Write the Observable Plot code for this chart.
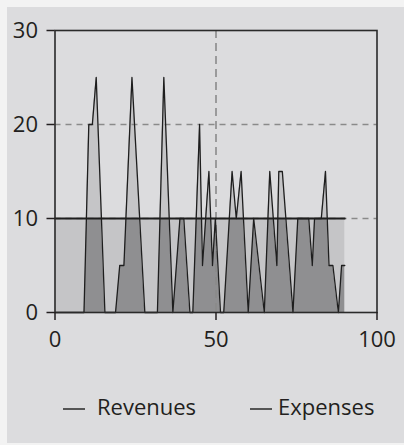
<!DOCTYPE html>
<html><head><meta charset="utf-8">
<script src="https://cdn.jsdelivr.net/npm/d3@7"></script>
<script src="https://cdn.jsdelivr.net/npm/@observablehq/plot@0.6"></script>
<style>
html,body{margin:0;padding:0;background:#f3f3f3;width:404px;height:445px;overflow:hidden;font-family:"Open Sans",sans-serif;}
#panel{position:absolute;left:7px;top:7px;width:397px;height:436px;background:#dcdcde;}
#chart{position:absolute;left:0;top:0;}
#legend{position:absolute;left:0;top:391px;width:404px;height:30px;font-size:22px;color:#231f20;}
.item{position:absolute;top:0;line-height:30px;white-space:nowrap;}
.sw{display:inline-block;width:22px;height:0;border-top:2px solid #555;vertical-align:middle;}
</style></head><body>
<div id="panel"></div><div id="chart"></div><div id="legend"></div>
<script>
// Data
const revenuesX = [0,9,10.5,11.6,12.8,15.5,18.8,20.1,21.4,23.9,27.9,31.8,33.8,36.6,38.8,40,41.9,42.8,44.9,45.8,47.8,48.9,49.8,51.4,52.4,55,56.3,57.8,60,61.7,65,66.7,68.9,69.5,70.6,73.9,75.4,78.8,79.9,80.6,82.7,84,85.1,86.3,88,89,90];
const revenuesY = [0,0,20,20,25,0,0,5,5,25,0,0,25,0,10,10,0,0,20,5,15,5,10,0,0,15,10,15,0,10,0,15,5,15,15,0,10,10,5,10,10,15,5,5,0,5,5];
const expensesX = [0, 90];
const expensesY = [10, 10];
const xTicks = [0, 50, 100];
const yTicks = [0, 10, 20, 30];
const gridX = [50];
const gridY = [10, 20];
const seriesNames = ["Revenues", "Expenses"];

function expensesAt(x) {
  for (let i = 0; i < expensesX.length - 1; i++) {
    const x0 = expensesX[i], x1 = expensesX[i + 1];
    if (x >= x0 && x <= x1) {
      const t = x1 === x0 ? 0 : (x - x0) / (x1 - x0);
      return expensesY[i] + t * (expensesY[i + 1] - expensesY[i]);
    }
  }
  return expensesY[expensesY.length - 1];
}
const rows = revenuesX.map((x, i) => ({x, rev: revenuesY[i], exp: expensesAt(x)}));
const expRows = expensesX.map((x, i) => ({x, exp: expensesY[i]}));

const dark = "#8f8f91", light = "#c5c5c7", ink = "#1e1e1e";
const chart = Plot.plot({
  width: 404, height: 372,
  marginLeft: 54.5, marginRight: 27.5, marginTop: 30, marginBottom: 60,
  style: {background: "transparent", fontFamily: "'Open Sans', sans-serif", fontSize: "22px", color: "#231f20"},
  x: {domain: [0, 100], axis: null, label: null},
  y: {domain: [0, 30], axis: null, label: null},
  marks: [
    Plot.areaY(rows, {x: "x", y1: 0, y2: "rev", fill: dark}),
    Plot.areaY(rows, {x: "x", y1: "exp", y2: "rev", fill: light}),
    Plot.ruleY(gridY, {stroke: "#8a8a8a", strokeWidth: 1.6, strokeDasharray: "6,5"}),
    Plot.ruleX(gridX, {stroke: "#8a8a8a", strokeWidth: 1.6, strokeDasharray: "8,5"}),
    Plot.line(rows, {x: "x", y: "rev", stroke: ink, strokeWidth: 1.3}),
    Plot.line(expRows, {x: "x", y: "exp", stroke: ink, strokeWidth: 1.8}),
    Plot.frame({stroke: "#2a2a2a", strokeWidth: 1.6}),
    Plot.axisY({ticks: yTicks, tickSize: 8, tickPadding: 9, label: null, strokeWidth: 1.5}),
    Plot.axisX({ticks: xTicks, tickSize: 8, tickPadding: 11, label: null, strokeWidth: 1.5})
  ]
});
document.getElementById("chart").appendChild(chart);

const legend = document.getElementById("legend");
const itemX = [63, 250];
const gaps = [12, 6];
seriesNames.forEach((name, i) => {
  const it = document.createElement("div");
  it.className = "item";
  it.style.left = itemX[i] + "px";
  const sw = document.createElement("span");
  sw.className = "sw";
  sw.style.marginRight = gaps[i] + "px";
  it.appendChild(sw);
  it.appendChild(document.createTextNode(name));
  legend.appendChild(it);
});
</script></body></html>
